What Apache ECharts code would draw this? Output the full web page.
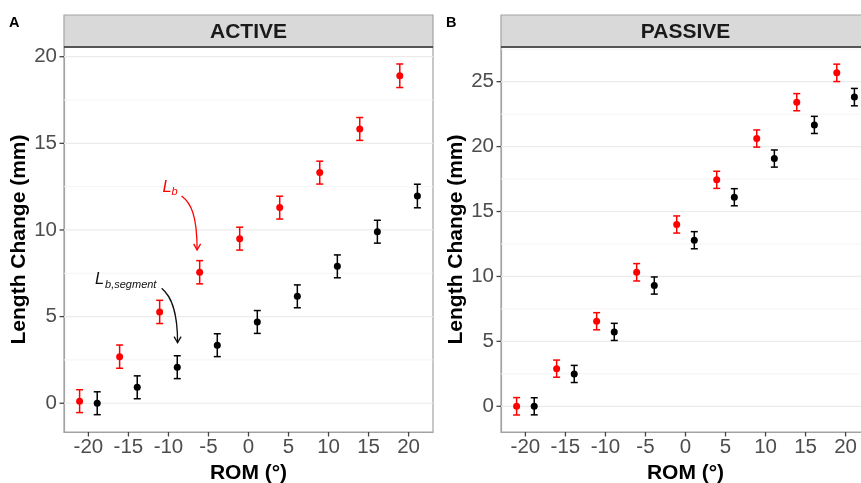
<!DOCTYPE html>
<html><head><meta charset="utf-8">
<script src="https://cdn.jsdelivr.net/npm/echarts@6/dist/echarts.min.js"></script>
<style>html,body{margin:0;padding:0;background:#fff}#c{width:861px;height:483px}</style>
</head><body><div id="c"></div>
<script>
// ---- data ----
const rom = [-20, -15, -10, -5, 0, 5, 10, 15, 20];
const xTickLabels = [-20, -15, -10, -5, 0, 5, 10, 15, 20];
const activeBody     = [0.12, 2.69, 5.27, 7.56, 9.50, 11.29, 13.31, 15.83, 18.90];
const activeBodySE   = [0.66, 0.67, 0.67, 0.67, 0.66, 0.66, 0.66, 0.66, 0.68];
const activeSeg      = [0.00, 0.92, 2.08, 3.35, 4.69, 6.17, 7.90, 9.90, 11.96];
const activeSegSE    = [0.66, 0.66, 0.66, 0.66, 0.66, 0.66, 0.66, 0.66, 0.68];
const passiveBody    = [0.00, 2.90, 6.55, 10.32, 14.00, 17.44, 20.62, 23.42, 25.68];
const passiveBodySE  = [0.67, 0.66, 0.66, 0.67, 0.66, 0.66, 0.66, 0.66, 0.67];
const passiveSeg     = [0.00, 2.49, 5.73, 9.30, 12.79, 16.10, 19.08, 21.67, 23.81];
const passiveSegSE   = [0.66, 0.66, 0.66, 0.66, 0.66, 0.66, 0.66, 0.66, 0.67];
const yTicksActive   = [0, 5, 10, 15, 20];
const yMinorActive   = [2.5, 7.5, 12.5, 17.5];
const yTicksPassive  = [0, 5, 10, 15, 20, 25];
const yMinorPassive  = [2.5, 7.5, 12.5, 17.5, 22.5, 27.5];
const panelTitles = ['ACTIVE', 'PASSIVE'];
const panelTags = ['A', 'B'];
const xTitle = 'ROM (°)';
const yTitle = 'Length Change (mm)';

// ---- layout / style ----
const RED = '#FF0000', BLACK = '#000000';
const DODGE = 1.1;
const FONT = 'Liberation Sans, Arial';
const GRIDS = [
  {left: 64, top: 47, width: 369, height: 385},
  {left: 501, top: 47, width: 369, height: 385}
];
const STRIP_TOP = 15;
const YRANGES = [[-1.66, 20.56], [-1.98, 27.67]];
const XRANGE = [-23.05, 23.05];
const BORDER = '#A3A3A3';
const TICK_LEN = 4.5;

const chart = echarts.init(document.getElementById('c'), null, {renderer: 'canvas'});

function errData(means, se, off) {
  return rom.map((r, i) => [r + off, means[i] - se[i], means[i] + se[i]]);
}
function ptData(means, off) {
  return rom.map((r, i) => [r + off, means[i]]);
}
function errSeries(gi, means, se, off, color) {
  return {
    type: 'custom', xAxisIndex: gi, yAxisIndex: gi, z: 3, silent: true,
    data: errData(means, se, off),
    encode: {x: 0, y: [1, 2]},
    renderItem: function (params, api) {
      const x = api.value(0);
      const lo = api.coord([x, api.value(1)]);
      const hi = api.coord([x, api.value(2)]);
      const hw = 3.5;
      const st = {stroke: color, lineWidth: 1.5};
      return {type: 'group', children: [
        {type: 'line', shape: {x1: lo[0], y1: lo[1], x2: hi[0], y2: hi[1]}, style: st},
        {type: 'line', shape: {x1: lo[0] - hw, y1: lo[1], x2: lo[0] + hw, y2: lo[1]}, style: st},
        {type: 'line', shape: {x1: hi[0] - hw, y1: hi[1], x2: hi[0] + hw, y2: hi[1]}, style: st}
      ]};
    }
  };
}
function ptSeries(gi, means, off, color) {
  return {
    type: 'scatter', xAxisIndex: gi, yAxisIndex: gi, z: 4, silent: true,
    symbol: 'circle', symbolSize: 7,
    itemStyle: {color: color, opacity: 1},
    data: ptData(means, off)
  };
}
function gridLineSeries(gi, major, minor) {
  const data = major.map(v => [0, v, 1]).concat(minor.map(v => [0, v, 0]));
  return {
    type: 'custom', xAxisIndex: gi, yAxisIndex: gi, z: 1, silent: true,
    data: data, encode: {x: 0, y: 1},
    renderItem: function (params, api) {
      const cs = params.coordSys;
      const p = api.coord([0, api.value(1)]);
      const isMajor = api.value(2) === 1;
      return {type: 'line', shape: {x1: cs.x, y1: p[1], x2: cs.x + cs.width, y2: p[1]},
        style: {stroke: isMajor ? '#EBEBEB' : '#F3F3F3', lineWidth: isMajor ? 1.2 : 0.9}};
    }
  };
}
// axis tick marks drawn through the axes' own scales
function tickSeries(gi, xt, yt) {
  const data = xt.map(v => [v, 0, 0]).concat(yt.map(v => [0, v, 1]));
  return {
    type: 'custom', xAxisIndex: gi, yAxisIndex: gi, z: 5, silent: true, clip: false,
    data: data, encode: {x: 0, y: 1},
    renderItem: function (params, api) {
      const cs = params.coordSys;
      const p = api.coord([api.value(0), api.value(1)]);
      const st = {stroke: '#444444', lineWidth: 1.3};
      if (api.value(2) === 0) {
        const yb = cs.y + cs.height;
        return {type: 'line', shape: {x1: p[0], y1: yb, x2: p[0], y2: yb + TICK_LEN}, style: st};
      }
      return {type: 'line', shape: {x1: cs.x - TICK_LEN, y1: p[1], x2: cs.x, y2: p[1]}, style: st};
    }
  };
}

function xAxis(gi) {
  return {
    type: 'value', gridIndex: gi, min: XRANGE[0], max: XRANGE[1],
    name: xTitle, nameLocation: 'middle', nameGap: 25,
    nameTextStyle: {fontFamily: FONT, fontWeight: 'bold', fontSize: 21, color: '#000'},
    axisLine: {show: true, onZero: false, lineStyle: {color: BORDER, width: 1.2}},
    axisTick: {show: false},
    axisLabel: {customValues: xTickLabels, margin: 5, fontFamily: FONT, fontSize: 20.5, color: '#4D4D4D', hideOverlap: false},
    splitLine: {show: false}, minorSplitLine: {show: false}
  };
}
function yAxis(gi, ticks) {
  return {
    type: 'value', gridIndex: gi, min: YRANGES[gi][0], max: YRANGES[gi][1],
    name: yTitle, nameLocation: 'middle', nameGap: 34,
    nameTextStyle: {fontFamily: FONT, fontWeight: 'bold', fontSize: 21, color: '#000'},
    axisLine: {show: true, onZero: false, lineStyle: {color: BORDER, width: 1.2}},
    axisTick: {show: false},
    axisLabel: {customValues: ticks, margin: 7, fontFamily: FONT, fontSize: 20.5, color: '#4D4D4D', hideOverlap: false},
    splitLine: {show: false}, minorSplitLine: {show: false}
  };
}

const option = {
  backgroundColor: '#fff',
  animation: false,
  grid: GRIDS.map(g => Object.assign({show: true, borderColor: BORDER, borderWidth: 1.2, backgroundColor: 'transparent', containLabel: false, outerBoundsMode: 'none'}, g)),
  xAxis: [xAxis(0), xAxis(1)],
  yAxis: [yAxis(0, yTicksActive), yAxis(1, yTicksPassive)],
  series: [
    gridLineSeries(0, yTicksActive, yMinorActive),
    gridLineSeries(1, yTicksPassive, yMinorPassive),
    tickSeries(0, xTickLabels, yTicksActive),
    tickSeries(1, xTickLabels, yTicksPassive),
    errSeries(0, activeBody, activeBodySE, -DODGE, RED),
    errSeries(0, activeSeg, activeSegSE, DODGE, BLACK),
    errSeries(1, passiveBody, passiveBodySE, -DODGE, RED),
    errSeries(1, passiveSeg, passiveSegSE, DODGE, BLACK),
    ptSeries(0, activeBody, -DODGE, RED),
    ptSeries(0, activeSeg, DODGE, BLACK),
    ptSeries(1, passiveBody, -DODGE, RED),
    ptSeries(1, passiveSeg, DODGE, BLACK)
  ]
};
chart.setOption(option);

// ---- strips, panel tags, annotations ----
const graphics = [];
GRIDS.forEach((g, i) => {
  graphics.push({type: 'rect', shape: {x: g.left, y: STRIP_TOP, width: g.width, height: g.top - STRIP_TOP},
    style: {fill: '#D9D9D9', stroke: BORDER, lineWidth: 1.2}, z: 10});
  graphics.push({type: 'line', shape: {x1: g.left, y1: g.top, x2: g.left + g.width, y2: g.top},
    style: {stroke: '#333333', lineWidth: 1.5}, z: 11});
  graphics.push({type: 'text', x: g.left + g.width / 2, y: (STRIP_TOP + g.top) / 2 + 1, z: 12,
    style: {text: panelTitles[i], fontFamily: FONT, fontWeight: 'bold', fontSize: 21,
      fill: '#1A1A1A', align: 'center', verticalAlign: 'middle'}});
});
graphics.push({type: 'text', x: 9, y: 23, z: 12, style: {text: panelTags[0], fontFamily: FONT, fontWeight: 'bold', fontSize: 14.5, fill: '#000', align: 'left', verticalAlign: 'middle'}});
graphics.push({type: 'text', x: 446, y: 23, z: 12, style: {text: panelTags[1], fontFamily: FONT, fontWeight: 'bold', fontSize: 14.5, fill: '#000', align: 'left', verticalAlign: 'middle'}});

// annotations in data coordinates of the ACTIVE panel
const annotations = [
  {main: 'L', sub: 'b', color: RED, text: [-10.73, 12.45], subOff: [9, 4.5],
   curve: [[-8.36, 11.96], [-7.20, 11.56], [-6.42, 10.87], [-6.42, 8.85]]},
  {main: 'L', sub: 'b,segment', color: '#111111', text: [-19.17, 7.14], subOff: [10, 5],
   curve: [[-10.85, 6.64], [-9.69, 6.19], [-8.86, 5.38], [-8.86, 3.50]]}
];
const toPx = p => chart.convertToPixel({xAxisIndex: 0, yAxisIndex: 0}, p);
annotations.forEach(a => {
  const t = toPx(a.text);
  graphics.push({type: 'text', x: t[0], y: t[1], z: 12, style: {text: a.main, fontFamily: FONT, fontStyle: 'italic', fontSize: 16.5, fill: a.color, align: 'left', verticalAlign: 'middle'}});
  graphics.push({type: 'text', x: t[0] + a.subOff[0], y: t[1] + a.subOff[1], z: 12, style: {text: a.sub, fontFamily: FONT, fontStyle: 'italic', fontSize: 11, fill: a.color, align: 'left', verticalAlign: 'middle'}});
  const c = a.curve.map(toPx);
  graphics.push({type: 'bezierCurve', z: 12, shape: {x1: c[0][0], y1: c[0][1], cpx1: c[1][0], cpy1: c[1][1], cpx2: c[2][0], cpy2: c[2][1], x2: c[3][0], y2: c[3][1]},
    style: {stroke: a.color, lineWidth: 1.3, fill: null}});
  const e = c[3];
  graphics.push({type: 'polyline', z: 12, shape: {points: [[e[0] - 3.5, e[1] - 6], [e[0], e[1]], [e[0] + 3.5, e[1] - 6]]},
    style: {stroke: a.color, lineWidth: 1.3, fill: null}});
});
chart.setOption({graphic: graphics});
</script></body></html>
